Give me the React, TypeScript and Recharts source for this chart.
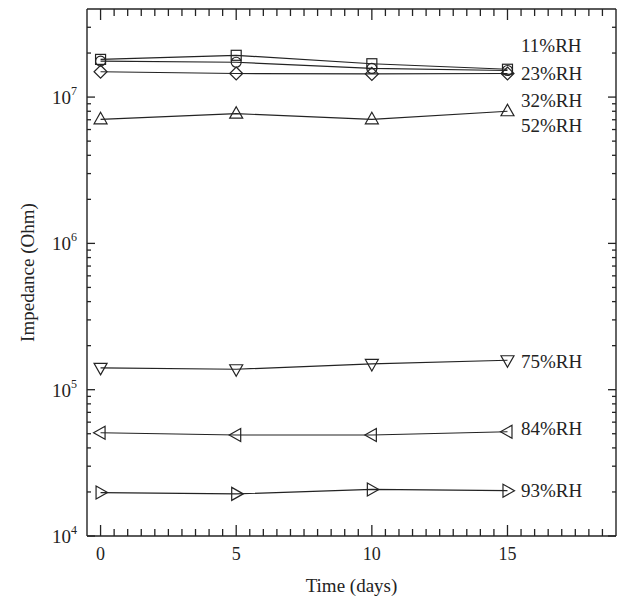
import { LineChart, Line, XAxis, YAxis, ReferenceDot, ReferenceLine } from 'recharts';

const INK = '#232323';
const FONT = '"Liberation Serif", "Times New Roman", serif';

// impedance (Ohm) vs. storage time (days), one series per humidity level
const days = [0, 5, 10, 15];
const rh11 = [1.81e7, 1.93e7, 1.69e7, 1.55e7];
const rh23 = [1.76e7, 1.73e7, 1.57e7, 1.52e7];
const rh32 = [1.49e7, 1.45e7, 1.44e7, 1.45e7];
const rh52 = [7.05e6, 7.7e6, 7.05e6, 8.0e6];
const rh75 = [1.41e5, 1.38e5, 1.5e5, 1.59e5];
const rh84 = [5.08e4, 4.9e4, 4.9e4, 5.16e4];
const rh93 = [1.98e4, 1.94e4, 2.08e4, 2.04e4];

const seriesNames = ['11%RH', '23%RH', '32%RH', '52%RH', '75%RH', '84%RH', '93%RH'];
const seriesValues = [rh11, rh23, rh32, rh52, rh75, rh84, rh93];
const markerKinds = ['square', 'circle', 'diamond', 'up', 'down', 'left', 'right'];

// where each humidity tag sits on the right-hand side (y in Ohm)
const tagY = [2.26e7, 1.46e7, 9.5e6, 6.4e6, 1.55e5, 5.47e4, 2.06e4];

const X_MIN = -0.5;
const X_MAX = 19;
const Y_MIN = 1e4;
const Y_MAX = 4e7;

const xMajor = [0, 5, 10, 15];
const xTicks = Array.from({ length: 38 }, (_, i) => i * 0.5);
const decades = [1e4, 1e5, 1e6, 1e7];
const yTicks = decades.flatMap((d) => [1, 2, 3, 4, 5, 6, 7, 8, 9].map((m) => m * d)).filter((v) => v < Y_MAX);

const rows = days.map((day, i) => {
  const row: Record<string, number> = { day };
  seriesNames.forEach((name, s) => {
    row[name] = seriesValues[s][i];
  });
  return row;
});

const isDecade = (v: number) => Math.abs(Math.log10(v) - Math.round(Math.log10(v))) < 1e-6;

function Marker({ cx, cy, kind }: { cx: number; cy: number; kind: string }) {
  const p = { fill: 'none', stroke: INK, strokeWidth: 1.2 };
  switch (kind) {
    case 'square':
      return <rect x={cx - 5} y={cy - 5} width={10} height={10} {...p} />;
    case 'circle':
      return <circle cx={cx} cy={cy} r={5} {...p} />;
    case 'diamond':
      return <polygon points={`${cx},${cy - 6.5} ${cx + 6.5},${cy} ${cx},${cy + 6.5} ${cx - 6.5},${cy}`} {...p} />;
    case 'up':
      return <polygon points={`${cx},${cy - 7} ${cx + 6.5},${cy + 4.5} ${cx - 6.5},${cy + 4.5}`} {...p} />;
    case 'down':
      return <polygon points={`${cx},${cy + 7} ${cx + 6.5},${cy - 4.5} ${cx - 6.5},${cy - 4.5}`} {...p} />;
    case 'left':
      return <polygon points={`${cx - 7},${cy} ${cx + 4.5},${cy - 6.5} ${cx + 4.5},${cy + 6.5}`} {...p} />;
    default:
      return <polygon points={`${cx + 7},${cy} ${cx - 4.5},${cy - 6.5} ${cx - 4.5},${cy + 6.5}`} {...p} />;
  }
}

// inward tick mark drawn at a point on the frame; dx/dy give direction and length
const tickMark = (dx: number, dy: number) => (p: any) => (
  <path d={`M${p.cx},${p.cy}L${p.cx + dx},${p.cy + dy}`} stroke={INK} strokeWidth={1.3} fill="none" />
);

const XLabel = (props: any) => {
  const v = props.payload.value;
  if (!xMajor.includes(v)) return <g />;
  return (
    <text x={props.x} y={Number(props.y) + 24} textAnchor="middle" fontSize={18} fontFamily={FONT} fill={INK}>
      {v}
    </text>
  );
};

const YLabel = (props: any) => {
  const v = props.payload.value;
  if (!isDecade(v)) return <g />;
  return (
    <text x={Number(props.x) - 10} y={Number(props.y) + 7} textAnchor="end" fontSize={19} fontFamily={FONT} fill={INK}>
      10
      <tspan dy={-9} fontSize={12}>
        {Math.round(Math.log10(v))}
      </tspan>
    </text>
  );
};

const YTitle = (props: any) => {
  const vb = props.viewBox;
  const cx = 27;
  const cy = vb && vb.height ? vb.y + vb.height / 2 : 272;
  return (
    <text
      transform={`translate(${cx},${cy}) rotate(-90)`}
      textAnchor="middle"
      dominantBaseline="central"
      fontSize={19}
      fontFamily={FONT}
      fill={INK}
    >
      Impedance (Ohm)
    </text>
  );
};

export default function App() {
  return (
    <div style={{ position: 'absolute', left: 0, top: 0, background: '#fff' }}>
      <LineChart width={620} height={603} data={rows} margin={{ top: 9, right: 4, bottom: 0, left: 0 }}>
        <XAxis
          dataKey="day"
          type="number"
          domain={[X_MIN, X_MAX]}
          allowDataOverflow
          ticks={xTicks}
          interval={0}
          tickSize={0}
          tickMargin={0}
          tickLine={false}
          tick={<XLabel />}
          axisLine={{ stroke: INK, strokeWidth: 1.4 }}
          height={67}
          label={{ value: 'Time (days)', position: 'insideBottom', offset: 11, fontSize: 19, fontFamily: FONT, fill: INK }}
        />
        <YAxis
          type="number"
          scale="log"
          domain={[Y_MIN, Y_MAX]}
          allowDataOverflow
          ticks={yTicks}
          interval={0}
          tickSize={0}
          tickMargin={0}
          tickLine={false}
          tick={<YLabel />}
          axisLine={{ stroke: INK, strokeWidth: 1.4 }}
          width={87}
          label={<YTitle />}
        />
        <ReferenceLine y={Y_MAX} stroke={INK} strokeWidth={1.4} ifOverflow="visible" />
        <ReferenceLine x={X_MAX} stroke={INK} strokeWidth={1.4} ifOverflow="visible" />
        {xTicks.map((t) => {
          const len = xMajor.includes(t) ? 11 : 7;
          return [
            <ReferenceDot key={`xb-${t}`} x={t} y={Y_MIN} r={0} ifOverflow="visible" shape={tickMark(0, -len)} />,
            <ReferenceDot key={`xt-${t}`} x={t} y={Y_MAX} r={0} ifOverflow="visible" shape={tickMark(0, len)} />,
          ];
        })}
        {yTicks.map((t) => {
          const len = isDecade(t) ? 8 : 4;
          return [
            <ReferenceDot key={`yl-${t}`} x={X_MIN} y={t} r={0} ifOverflow="visible" shape={tickMark(len, 0)} />,
            <ReferenceDot key={`yr-${t}`} x={X_MAX} y={t} r={0} ifOverflow="visible" shape={tickMark(-len, 0)} />,
          ];
        })}
        {seriesNames.map((name, s) => (
          <Line
            key={name}
            dataKey={name}
            type="linear"
            stroke={INK}
            strokeWidth={1.2}
            isAnimationActive={false}
            dot={(props: any) => <Marker key={`${name}-${props.index}`} cx={props.cx} cy={props.cy} kind={markerKinds[s]} />}
          />
        ))}
        {seriesNames.map((name, s) => (
          <ReferenceDot
            key={`tag-${name}`}
            x={15.5}
            y={tagY[s]}
            r={0}
            ifOverflow="visible"
            shape={(p: any) => (
              <text x={p.cx} y={p.cy} dominantBaseline="central" fontSize={19} fontFamily={FONT} fill={INK}>
                {name}
              </text>
            )}
          />
        ))}
      </LineChart>
    </div>
  );
}
